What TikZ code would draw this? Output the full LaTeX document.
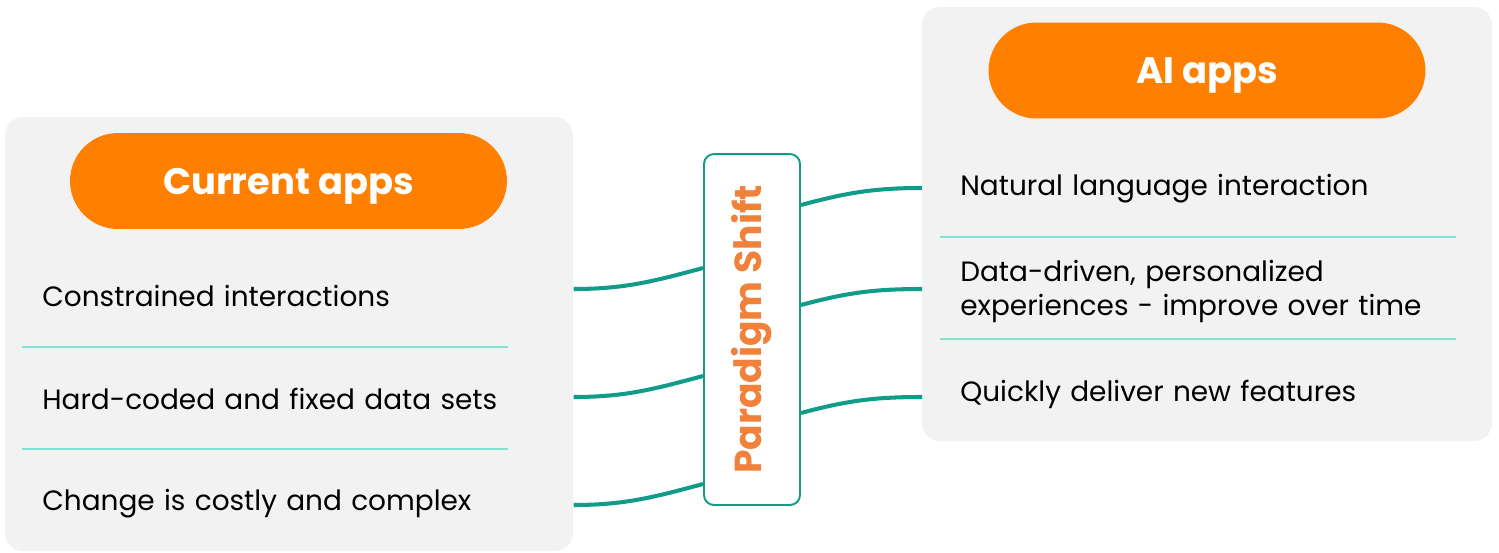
\documentclass[tikz,border=0pt]{standalone}
\usepackage{fontspec, graphicx}
\usetikzlibrary{calc}
\setmainfont{Poppins}
\definecolor{panelgray}{HTML}{F2F2F2}
\definecolor{apporange}{HTML}{FF8000}
\definecolor{shiftorange}{HTML}{F0813A}
\definecolor{linkteal}{HTML}{109C88}
\definecolor{septeal}{HTML}{80E3D4}

\begin{document}
\begin{tikzpicture}[x=0.02cm,y=-0.02cm,
  panel/.style={fill=panelgray,rounded corners=0.36cm},
  pill/.style={fill=apporange,text=white,font=\fontsize{21}{24}\selectfont\bfseries,text depth=0pt,minimum width=8.74cm,minimum height=1.92cm,rounded corners=0.96cm},
  item/.style={anchor=west,align=left,inner ysep=0pt,font=\fontsize{15.9}{18.8}\selectfont},
  sep/.style={septeal,line width=1.1pt},
  link/.style={linkteal,line width=2.3pt}]
\useasboundingbox (0,0) rectangle (1499,552);
\fill[panel] (5,117) rectangle (573,551);
\fill[panel] (922,7) rectangle (1492,441);
\node[pill] (cur)at(288.5,181){Current apps};
\node[pill] (ai)at(1207,70.5){AI apps};
% left side
\node[item,text width=10.22cm,inner xsep=0.4cm] (c1)at(22,296){Constrained interactions};
\node[item,text width=10.22cm,inner xsep=0.4cm] (c2)at(22,399){Hard-coded and fixed data sets};
\node[item,text width=10.22cm,inner xsep=0.4cm] (c3)at(22,504){Change is costly and complex};
\draw[sep] (22,347) -- (508,347);
\draw[sep] (22,449) -- (508,449);
% right side
\node[item,text width=9.6cm,inner xsep=0.76cm] (a1)at(922,189){Natural language interaction};
\node[item,text width=9.6cm,inner xsep=0.76cm] (a2)at(922,291.5){Data-driven, personalized\\experiences - improve over time};
\node[item,text width=9.6cm,inner xsep=0.76cm] (a3)at(922,394){Quickly deliver new features};
\draw[sep] (940,237) -- (1456,237);
\draw[sep] (940,339) -- (1456,339);
% paradigm shift
\node[draw=linkteal,line width=1.1pt,fill=white,rounded corners=0.2cm,minimum width=1.92cm,minimum height=7.02cm,text=shiftorange,font=\fontsize{21.4}{24}\selectfont\bfseries] (shift)at(752,329.5){\rotatebox{90}{Paradigm Shift}};
\draw[link] ($(c1.east)+(0,-7)$) to[out=0,in=195] ($(shift.west)+(0,-61.5)$);
\draw[link] ($(c2.east)+(0,-2)$) to[out=0,in=195] ($(shift.west)+(0,46.5)$);
\draw[link] ($(c3.east)+(0,1)$) to[out=0,in=195] ($(shift.west)+(0,154.5)$);
\draw[link] ($(shift.east)+(0,-124.5)$) to[out=15,in=180] ($(a1.west)+(0,-1)$);
\draw[link] ($(shift.east)+(0,-24.5)$) to[out=15,in=180] ($(a2.west)+(0,-2.5)$);
\draw[link] ($(shift.east)+(0,83.5)$) to[out=15,in=180] ($(a3.west)+(0,3)$);
\end{tikzpicture}
\end{document}
